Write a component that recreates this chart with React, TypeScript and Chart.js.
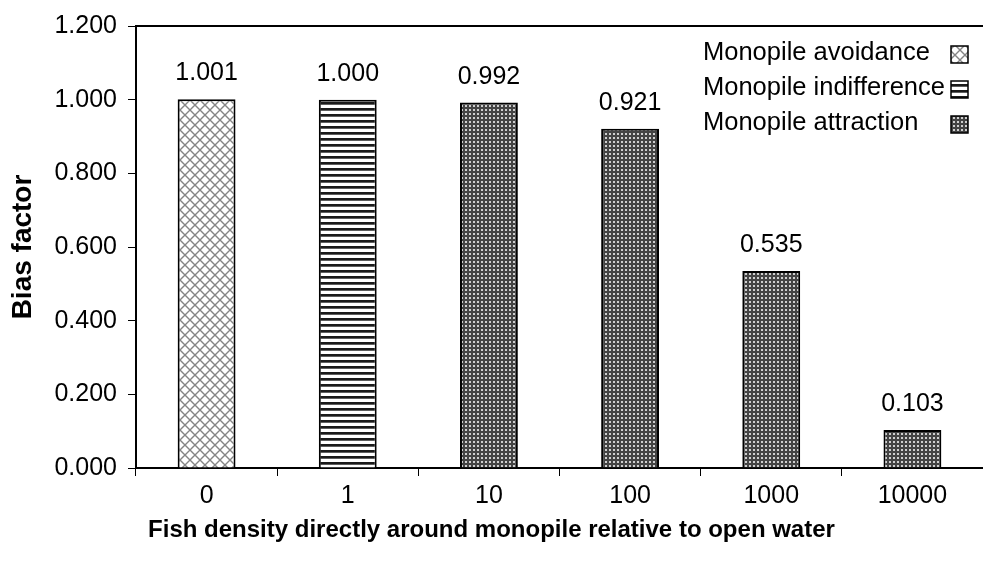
import React, { useEffect, useRef } from 'react';
import { Chart, registerables } from 'chart.js';

Chart.register(...registerables);

const categories = ['0', '1', '10', '100', '1000', '10000'];
const biasFactor = [1.001, 1.0, 0.992, 0.921, 0.535, 0.103];
const barGroup = ['avoidance', 'indifference', 'attraction', 'attraction', 'attraction', 'attraction'];
const legendLabels = ['Monopile avoidance', 'Monopile indifference', 'Monopile attraction'];
const legendGroups = ['avoidance', 'indifference', 'attraction'];
const yMin = 0;
const yMax = 1.2;
const yStep = 0.2;
const xTitle = 'Fish density directly around monopile relative to open water';
const yTitle = 'Bias factor';

const FAMILY = '"Liberation Sans", Arial, sans-serif';
const FS = 25;

function makePattern(kind: string): CanvasPattern | string {
  const c = document.createElement('canvas');
  const g = c.getContext('2d');
  if (!g) return '#888';
  if (kind === 'avoidance') {
    c.width = 10; c.height = 10;
    g.fillStyle = '#ffffff'; g.fillRect(0, 0, 10, 10);
    g.strokeStyle = '#858585'; g.lineWidth = 1.4;
    g.beginPath();
    g.moveTo(-2, -2); g.lineTo(12, 12);
    g.moveTo(12, -2); g.lineTo(-2, 12);
    g.stroke();
  } else if (kind === 'indifference') {
    c.width = 4; c.height = 6;
    g.fillStyle = '#ffffff'; g.fillRect(0, 0, 4, 6);
    g.fillStyle = '#1a1a1a'; g.fillRect(0, 0, 4, 2);
    g.fillStyle = '#5e5e5e'; g.fillRect(0, 2, 4, 1);
  } else {
    c.width = 4; c.height = 4;
    g.fillStyle = '#444444'; g.fillRect(0, 0, 4, 4);
    g.fillStyle = '#cfcfcf'; g.fillRect(1, 1, 2, 2);
  }
  const p = g.createPattern(c, 'repeat');
  return p || '#888';
}

export default function App() {
  const ref = useRef<HTMLCanvasElement | null>(null);
  useEffect(() => {
    if (!ref.current) return;
    const patterns: Record<string, CanvasPattern | string> = {
      avoidance: makePattern('avoidance'),
      indifference: makePattern('indifference'),
      attraction: makePattern('attraction'),
    };

    const extras = {
      id: 'extras',
      afterDraw(chart: any) {
        const ctx = chart.ctx as CanvasRenderingContext2D;
        const area = chart.chartArea;
        ctx.save();
        // top border of plot area
        ctx.strokeStyle = '#000';
        ctx.lineWidth = 2;
        ctx.beginPath();
        ctx.moveTo(area.left - 1, area.top);
        ctx.lineTo(chart.width, area.top);
        ctx.stroke();

        // value labels
        const meta = chart.getDatasetMeta(0);
        ctx.fillStyle = '#000';
        ctx.font = `${FS}px ${FAMILY}`;
        ctx.textAlign = 'center';
        ctx.textBaseline = 'middle';
        meta.data.forEach((bar: any, i: number) => {
          ctx.fillText(biasFactor[i].toFixed(3), bar.x, bar.y - 26);
        });

        // legend
        ctx.font = `25.5px ${FAMILY}`;
        ctx.textAlign = 'left';
        const rowY = [53, 88, 123];
        legendLabels.forEach((lab, i) => {
          ctx.fillStyle = '#000';
          ctx.fillText(lab, 703, rowY[i]);
          const bx = 951, by = rowY[i] - 7, bs = 17;
          ctx.fillStyle = patterns[legendGroups[i]] as any;
          ctx.fillRect(bx, by, bs, bs);
          ctx.strokeStyle = '#000';
          ctx.lineWidth = 1.5;
          ctx.strokeRect(bx, by, bs, bs);
        });

        // x axis title centred on the whole chart
        ctx.font = `bold 24px ${FAMILY}`;
        ctx.textAlign = 'center';
        ctx.fillStyle = '#000';
        ctx.fillText(xTitle, chart.width / 2, 530);
        ctx.restore();
      },
    };

    const chart = new Chart(ref.current, {
      type: 'bar',
      data: {
        labels: categories,
        datasets: [
          {
            data: biasFactor,
            backgroundColor: barGroup.map((g) => patterns[g]) as any,
            borderColor: '#000',
            borderWidth: 2,
            barPercentage: 0.41,
            categoryPercentage: 1,
          },
        ],
      },
      options: {
        animation: false,
        responsive: false,
        layout: { padding: { top: 20, left: 0, right: 0, bottom: 0 } },
        plugins: { legend: { display: false }, tooltip: { enabled: false } },
        scales: {
          x: {
            afterFit: (s: any) => { s.height = 94; },
            grid: {
              offset: true,
              drawOnChartArea: false,
              drawTicks: true,
              tickLength: 8,
              color: '#000',
              lineWidth: 1,
            },
            border: { display: true, color: '#000', width: 2 },
            ticks: {
              color: '#000',
              padding: 5,
              font: { family: FAMILY, size: FS },
              maxRotation: 0,
            },
          },
          y: {
            min: yMin,
            max: yMax,
            afterFit: (s: any) => { s.width = 136; },
            grid: {
              drawOnChartArea: false,
              drawTicks: true,
              tickLength: 8,
              color: '#000',
              lineWidth: 1,
            },
            border: { display: true, color: '#000', width: 2 },
            ticks: {
              stepSize: yStep,
              color: '#000',
              padding: 11,
              font: { family: FAMILY, size: FS },
              callback: (v: any) => Number(v).toFixed(3),
            },
            title: {
              display: true,
              text: yTitle,
              color: '#000',
              font: { family: FAMILY, size: 28, weight: 'bold' },
              padding: { top: 6, bottom: 0 },
            },
          },
        },
      } as any,
      plugins: [extras],
    });
    return () => chart.destroy();
  }, []);

  return (
    <div style={{ position: 'absolute', left: 0, top: 0, width: 983, height: 562, background: '#fff' }}>
      <canvas ref={ref} width={983} height={562} style={{ display: 'block' }} />
    </div>
  );
}
